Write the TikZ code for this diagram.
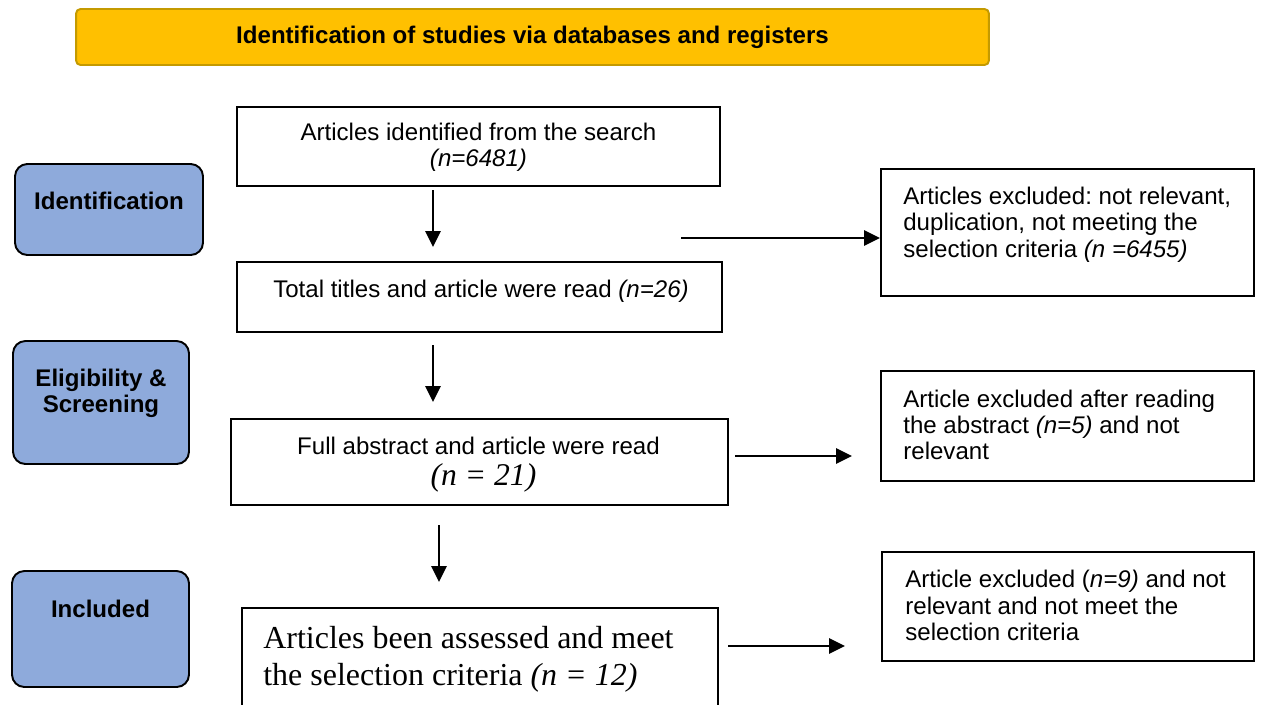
\documentclass[tikz,border=0pt]{standalone}
\usepackage{fontspec}
\setmainfont{Liberation Sans}
\newfontfamily\tnr{Liberation Serif}
\usepackage{xcolor}
\usepackage{tikz}
\usetikzlibrary{shapes,arrows,positioning,calc,arrows.meta}
\frenchspacing

\definecolor{stageblue}{HTML}{8EAADB}
\definecolor{titlegold}{HTML}{FFC000}
\definecolor{titleedge}{HTML}{C49A00}

\tikzset{
  stagebox/.style={draw=black, line width=1.1pt, fill=stageblue, rounded corners=7pt},
  stagetxt/.style={inner sep=0pt, align=center, font=\bfseries\fontsize{13.7}{15}\selectfont},
  flowbox/.style={draw=black, line width=1.2pt, fill=white},
  flowtxt/.style={inner sep=0pt, align=center, font=\fontsize{13.7}{15}\selectfont},
  exctxt/.style={inner sep=0pt, align=left, anchor=west, font=\fontsize{13.7}{15}\selectfont},
  arr/.style={line width=1.4pt, -{Triangle[length=9pt,width=8.5pt]}}
}

\begin{document}
\begin{tikzpicture}[x=0.02cm, y=-0.02cm]
    \useasboundingbox (0,0) rectangle (1261,704);

    % Header
    \node[draw=titleedge, line width=1.1pt, fill=titlegold, rounded corners=2.5pt,
          minimum width=18.26cm, minimum height=1.12cm,
          font=\bfseries\fontsize{13.7}{15}\selectfont] (title) at (532.5,37)
          {Identification of studies via databases and registers};

    % Stages (left)
    \node[stagebox, minimum width=3.76cm, minimum height=1.82cm] (idn) at (109,209.5) {};
    \node[stagetxt] (idnt) at (109,201) {Identification};

    \node[stagebox, minimum width=3.52cm, minimum height=2.46cm] (elg) at (101,402.5) {};
    \node[stagetxt] (elgt) at (101,393.5) {Eligibility \&\\Screening};

    \node[stagebox, minimum width=3.54cm, minimum height=2.32cm] (inc) at (100.5,629) {};
    \node[stagetxt] (inct) at (100.5,609) {Included};

    % Main flow
    \node[flowbox, minimum width=9.66cm, minimum height=1.58cm] (a1) at (478.5,146.5) {};
    \node[flowtxt] (a1t) at (478.5,147.5) {Articles identified from the search\\\textit{(n=6481)}};

    \node[flowbox, minimum width=9.7cm, minimum height=1.4cm] (a2) at (479.5,297) {};
    \node[flowtxt] (a2t) at (481,291) {Total titles and article were read \textit{(n=26)}};

    \node[flowbox, minimum width=9.94cm, minimum height=1.72cm] (a3) at (479.5,462) {};
    \node[flowtxt] (a3t) at (478.5,446) {Full abstract and article were read};
    \node[flowtxt, font=\tnr\itshape\fontsize{18}{21}\selectfont] (a3n) at (483.5,478) {(n = 21)};

    \node[flowbox, minimum width=9.52cm, minimum height=2.16cm] (a4) at (480,662) {};
    \node[exctxt, font=\tnr\fontsize{18.2}{21}\selectfont] (a4t) at (263,659.5)
          {Articles been assessed and meet\\the selection criteria \textit{(n = 12)}};

    % Exclusions (right)
    \node[flowbox, minimum width=7.46cm, minimum height=2.54cm] (r1) at (1067.5,232.5) {};
    \node[exctxt] (r1t) at (903,224.5)
          {Articles excluded: not relevant,\\duplication, not meeting the\\selection criteria \textit{(n =6455)}};

    \node[flowbox, minimum width=7.46cm, minimum height=2.2cm] (r2) at (1067.5,426) {};
    \node[exctxt] (r2t) at (903,425)
          {Article excluded after reading\\the abstract \textit{(n=5)} and not\\relevant};

    \node[flowbox, minimum width=7.44cm, minimum height=2.18cm] (r3) at (1068,606.5) {};
    \node[exctxt] (r3t) at (905,605.5)
          {Article excluded (\textit{n=9)} and not\\relevant and not meet the\\selection criteria};

    % Arrows
    \coordinate (d1) at (433,190);
    \coordinate (d2) at (433,345);
    \coordinate (d3) at (439,525);
    \coordinate (h1) at (681,238);
    \coordinate (h2) at (735,456);
    \coordinate (h3) at (728,646);

    \draw[arr, shorten >=0.28cm] (d1) -- (d1 |- a2.north);
    \draw[arr, shorten >=0.32cm] (d2) -- (d2 |- a3.north);
    \draw[arr, shorten >=0.5cm] (d3) -- (d3 |- a4.north);
    \draw[arr] (h1) -- (h1 -| r1.west);
    \draw[arr, shorten >=0.56cm] (h2) -- (h2 -| r2.west);
    \draw[arr, shorten >=0.72cm] (h3) -- (h3 -| r3.west);
\end{tikzpicture}
\end{document}
